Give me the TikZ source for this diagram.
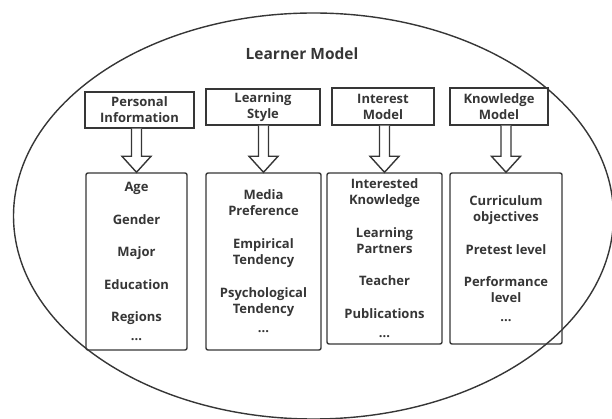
\documentclass[tikz,border=0pt]{standalone}
\usepackage{fontspec}
\usepackage{xcolor}
\usepackage{tikz}
\usetikzlibrary{calc, positioning}
\setmainfont{Open Sans}

\definecolor{inkgray}{HTML}{363636}
\tikzset{
    head/.style={draw=inkgray, line width=1.4pt, align=center, inner sep=0pt,
        font=\bfseries\fontsize{13}{16}\selectfont, text=inkgray},
    listbox/.style={draw=inkgray, line width=1.4pt, rounded corners=2pt, align=center,
        inner sep=0pt, font=\bfseries\fontsize{13}{16}\selectfont, text=inkgray},
    hollow/.style={draw=inkgray, line width=1.4pt, fill=white, line join=miter},
}
% hollow block arrow from a head box down to its list box
\newcommand{\blockarrow}[2]{
    \draw[hollow] let \p1=(#1.south -| #2.north), \p2=(#2.north) in
        (\x1-5pt,\y1) -- (\x1-5pt,\y2+16pt) -- (\x1-14.5pt,\y2+16pt) -- (\x2,\y2)
        -- (\x1+14.5pt,\y2+16pt) -- (\x1+5pt,\y2+16pt) -- (\x1+5pt,\y1);
}

\begin{document}
\begin{tikzpicture}[x=1pt, y=-1pt]
        \useasboundingbox (0,0) rectangle (612,419);
        \draw[inkgray, line width=1.4pt] (313.5,216) ellipse [x radius=300, y radius=203];
        \node[font=\bfseries\fontsize{15.5}{18}\selectfont, text=inkgray] (title) at (302,54) {Learner Model};

        % the four parts of the model
        \node[head, minimum width=109, minimum height=36] (pinfo) at (139.5,110) {Personal\\Information};
        \node[head, minimum width=114, minimum height=36] (lstyle) at (263,107) {Learning\\Style};
        \node[head, minimum width=102, minimum height=37] (imodel) at (383,106.5) {Interest\\Model};
        \node[head, minimum width=98, minimum height=37] (kmodel) at (499,106.5) {Knowledge\\Model};

        % what each part holds
        \node[listbox, minimum width=101, minimum height=177] (pinfolist) at (136.5,261.5)
            {Age\\[16.5pt] Gender\\[16.5pt] Major\\[16.5pt] Education\\[16.5pt] Regions\\[3pt] ...};
        \node[listbox, minimum width=115, minimum height=177] (lstylelist) at (263.5,261.5)
            {Media\\ Preference\\[17pt] Empirical\\ Tendency\\[17pt] Psychological\\ Tendency\\[3pt] ...};
        \node[listbox, minimum width=115, minimum height=171] (imodellist) at (384.5,258.5)
            {Interested\\ Knowledge\\[17pt] Learning\\ Partners\\[16pt] Teacher\\[17pt] Publications\\[3pt] ...};
        \node[listbox, minimum width=112, minimum height=171] (kmodellist) at (506,258.5)
            {Curriculum\\ objectives\\[17pt] Pretest level\\[16pt] Performance\\ level\\[3pt] ...};

        \blockarrow{pinfo}{pinfolist}
        \blockarrow{lstyle}{lstylelist}
        \blockarrow{imodel}{imodellist}
        \blockarrow{kmodel}{kmodellist}
\end{tikzpicture}
\end{document}
